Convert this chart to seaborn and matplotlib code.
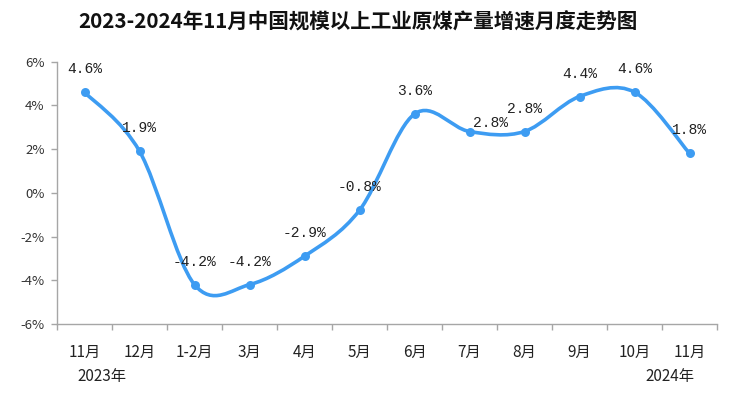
import numpy as np
import matplotlib
matplotlib.use("Agg")
import matplotlib.pyplot as plt
from matplotlib.path import Path
from matplotlib.patches import PathPatch
import seaborn as sns

# data
months = ["11月", "12月", "1-2月", "3月", "4月", "5月", "6月", "7月", "8月", "9月", "10月", "11月"]
growth = [4.6, 1.9, -4.2, -4.2, -2.9, -0.8, 3.6, 2.8, 2.8, 4.4, 4.6, 1.8]
yticks = [-6, -4, -2, 0, 2, 4, 6]
title = "2023-2024年11月中国规模以上工业原煤产量增速月度走势图"

sns.set_theme(style="white")
plt.rcParams['font.family'] = ['Noto Sans CJK SC', 'DejaVu Sans']

blue = "#3d9cf2"
fig = plt.figure(figsize=(7.31, 3.93), dpi=100)
ax = fig.add_axes([57 / 731, 1 - 324 / 393, (717 - 57) / 731, (324 - 61.5) / 393])

xs = np.arange(len(growth))
ys = np.array(growth)

# smooth curve like excel (catmull-rom as bezier segments)
verts = [(xs[0], ys[0])]
codes = [Path.MOVETO]
n = len(xs)
for i in range(n - 1):
    p0 = np.array([xs[max(i - 1, 0)], ys[max(i - 1, 0)]])
    p1 = np.array([xs[i], ys[i]])
    p2 = np.array([xs[i + 1], ys[i + 1]])
    p3 = np.array([xs[min(i + 2, n - 1)], ys[min(i + 2, n - 1)]])
    c1 = p1 + (p2 - p0) / 6
    c2 = p2 - (p3 - p1) / 6
    verts += [tuple(c1), tuple(c2), tuple(p2)]
    codes += [Path.CURVE4] * 3
ax.add_patch(PathPatch(Path(verts, codes), facecolor="none", edgecolor=blue,
                       lw=2.6, capstyle="round", joinstyle="round", zorder=2))

sns.scatterplot(x=xs, y=ys, ax=ax, color=blue, s=42, edgecolor=blue, linewidth=0, zorder=3)

# value labels
offsets = {7: (15, 6)}
for i, v in enumerate(growth):
    dx, dy = offsets.get(i, (0, 16.5))
    ax.annotate(f"{v:.1f}%", (xs[i], v), xytext=(dx, dy), textcoords="offset points",
                ha="center", va="center", fontsize=10.5, family="Liberation Mono", color="#222222")

ax.set_xlim(-0.5, 11.5)
ax.set_ylim(-6, 6)
ax.set_yticks(yticks)
ax.set_yticklabels([f"{t}%" for t in yticks], fontsize=9.5, color="#333333")
ax.set_xticks(xs)
ax.set_xticklabels(months, fontsize=11, color="#222222")
ax.set_xticks(np.arange(-0.5, 11.6, 0.5), minor=True)

for s in ["top", "right"]:
    ax.spines[s].set_visible(False)
for s in ["left", "bottom"]:
    ax.spines[s].set_color("#a6a6a6")
    ax.spines[s].set_linewidth(1.0)

ax.tick_params(axis="y", left=True, length=4, width=1, color="#a6a6a6", pad=5)
ax.tick_params(axis="x", which="major", bottom=False, pad=8)
ax.tick_params(axis="x", which="minor", bottom=True, length=4, width=1, color="#a6a6a6")
ax.grid(False)

fig.text(358 / 731, 1 - 22 / 393, title, ha="center", va="center", fontsize=14.8, fontweight="bold", color="#111111")
fig.text(102 / 731, 1 - 377 / 393, "2023年", ha="center", va="center", fontsize=11, color="#222222")
fig.text(670 / 731, 1 - 377 / 393, "2024年", ha="center", va="center", fontsize=11, color="#222222")

fig.savefig("out.png", dpi=100, facecolor="white")
